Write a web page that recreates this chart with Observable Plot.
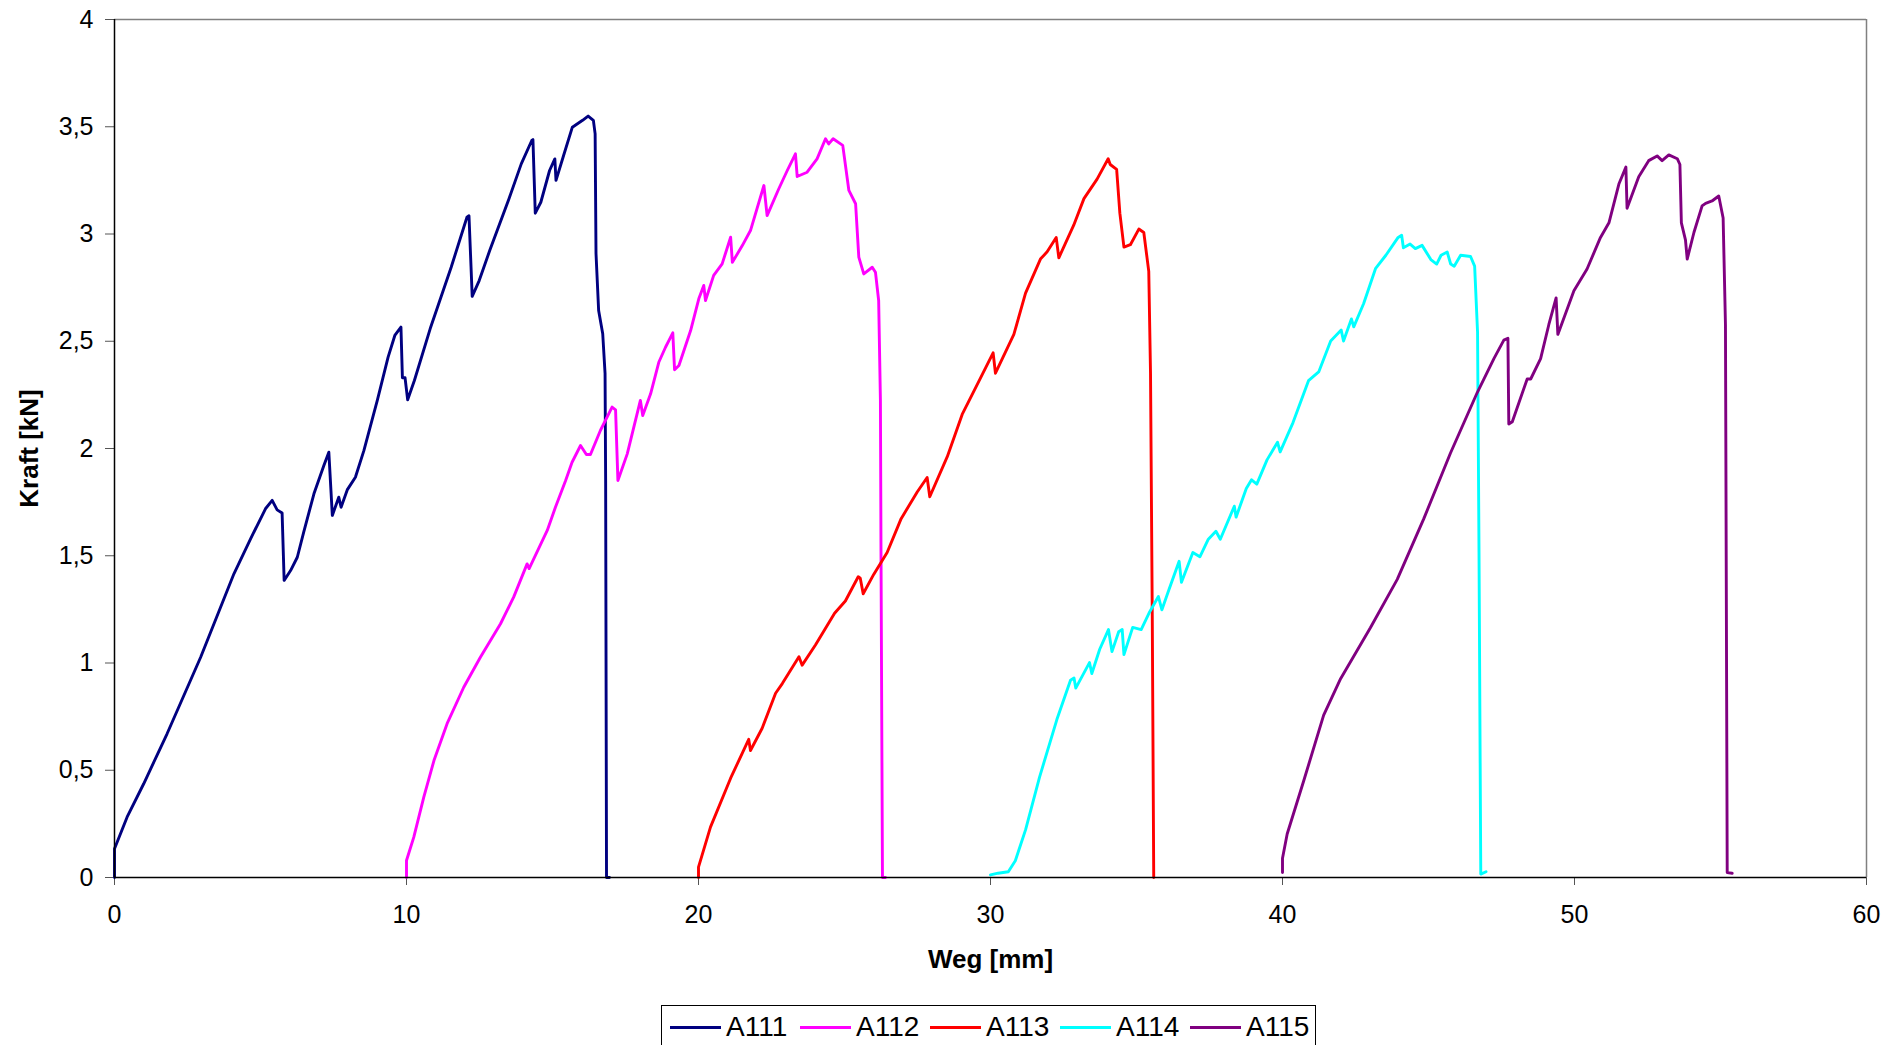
<!DOCTYPE html>
<html>
<head>
<meta charset="utf-8">
<script src="https://cdn.jsdelivr.net/npm/d3@7"></script>
<script src="https://cdn.jsdelivr.net/npm/@observablehq/plot@0.6"></script>
<style>
  html, body { margin: 0; padding: 0; background: #fff; }
  body { font-family: "Liberation Sans", Arial, sans-serif; width: 1902px; height: 1045px; overflow: hidden; position: relative; }
  #chart svg { display: block; }
  .legend { position: absolute; left: 661px; top: 1005px; width: 655px; height: 60px; border: 1px solid #000; box-sizing: border-box; padding-left: 8px; display: flex; align-items: flex-start; }
  .item { display: flex; align-items: center; height: 42px; width: 130px; flex: none; }
  .sw { width: 51px; height: 3px; margin-right: 5px; }
  .lab { font-size: 28px; color: #000; line-height: 1; }
</style>
</head>
<body>
<div id="chart"></div>
<div class="legend" id="legend"></div>
<script>
const seriesNames = ["A111", "A112", "A113", "A114", "A115"];
const seriesColors = ["#000080", "#FF00FF", "#FF0000", "#00FFFF", "#800080"];
const xTicks = [0, 10, 20, 30, 40, 50, 60];
const yTicks = [0, 0.5, 1, 1.5, 2, 2.5, 3, 3.5, 4];

// Weg [mm], Kraft [kN]
const A111 = [[0,0],[0,0.134],[0.43,0.281],[1.0,0.437],[1.8,0.67],[2.95,1.027],[4.09,1.416],[4.66,1.579],[5.17,1.719],[5.4,1.758],[5.57,1.714],[5.74,1.699],[5.81,1.385],[6.03,1.431],[6.26,1.493],[6.48,1.61],[6.83,1.789],[7.17,1.921],[7.34,1.983],[7.46,1.688],[7.68,1.773],[7.76,1.726],[7.97,1.807],[8.25,1.866],[8.54,1.99],[9.0,2.224],[9.37,2.426],[9.6,2.527],[9.81,2.566],[9.86,2.33],[9.95,2.33],[10.04,2.227],[10.27,2.317],[10.81,2.558],[11.53,2.845],[12.07,3.078],[12.14,3.085],[12.25,2.709],[12.49,2.783],[12.85,2.923],[13.51,3.164],[13.93,3.327],[14.29,3.436],[14.33,3.44],[14.41,3.097],[14.6,3.148],[14.9,3.296],[15.08,3.35],[15.12,3.25],[15.38,3.366],[15.68,3.498],[16.03,3.53],[16.22,3.55],[16.4,3.53],[16.46,3.467],[16.49,2.909],[16.58,2.643],[16.72,2.535],[16.8,2.35],[16.82,1.85],[16.85,0],[16.95,0]];
const A112 = [[10.0,0],[10.0,0.079],[10.25,0.188],[10.59,0.374],[10.94,0.545],[11.39,0.717],[11.96,0.887],[12.53,1.027],[13.22,1.183],[13.67,1.307],[14.13,1.462],[14.2,1.44],[14.82,1.618],[15.1,1.726],[15.45,1.851],[15.67,1.936],[15.96,2.014],[16.16,1.972],[16.3,1.972],[16.64,2.084],[17.04,2.193],[17.16,2.18],[17.24,1.851],[17.56,1.975],[18.01,2.224],[18.09,2.154],[18.36,2.255],[18.64,2.402],[18.87,2.472],[19.12,2.539],[19.18,2.367],[19.33,2.387],[19.73,2.55],[20.01,2.698],[20.18,2.76],[20.24,2.69],[20.52,2.807],[20.81,2.861],[21.1,2.985],[21.16,2.868],[21.5,2.946],[21.78,3.016],[22.24,3.226],[22.35,3.086],[22.75,3.211],[23.04,3.296],[23.32,3.374],[23.38,3.268],[23.72,3.288],[24.06,3.35],[24.35,3.444],[24.46,3.42],[24.61,3.444],[24.94,3.413],[25.15,3.203],[25.38,3.141],[25.49,2.892],[25.66,2.814],[25.95,2.845],[26.06,2.822],[26.17,2.69],[26.23,2.224],[26.25,1.52],[26.3,0],[26.4,0]];
const A113 = [[20.0,0],[20.0,0.048],[20.41,0.235],[21.1,0.463],[21.72,0.644],[21.78,0.592],[22.18,0.696],[22.64,0.859],[22.87,0.904],[23.44,1.029],[23.55,0.99],[24.01,1.085],[24.66,1.232],[25.03,1.289],[25.47,1.402],[25.54,1.395],[25.64,1.323],[26.0,1.413],[26.46,1.515],[26.94,1.673],[27.49,1.797],[27.83,1.865],[27.92,1.775],[28.52,1.962],[29.03,2.159],[29.66,2.329],[30.09,2.446],[30.17,2.351],[30.8,2.532],[31.2,2.724],[31.71,2.883],[31.94,2.917],[32.25,2.984],[32.34,2.889],[32.85,3.041],[33.2,3.165],[33.65,3.256],[34.03,3.351],[34.1,3.324],[34.32,3.301],[34.43,3.097],[34.57,2.939],[34.79,2.95],[35.08,3.023],[35.25,3.007],[35.42,2.826],[35.48,2.351],[35.54,1.221],[35.59,0]];
const A114 = [[30.0,0.012],[30.26,0.02],[30.61,0.027],[30.85,0.078],[31.2,0.222],[31.68,0.468],[32.27,0.735],[32.74,0.92],[32.86,0.93],[32.92,0.883],[33.39,1.002],[33.47,0.951],[33.74,1.064],[34.04,1.156],[34.16,1.053],[34.39,1.146],[34.51,1.156],[34.57,1.039],[34.87,1.166],[35.16,1.156],[35.45,1.238],[35.75,1.31],[35.87,1.248],[36.11,1.341],[36.46,1.474],[36.54,1.376],[36.93,1.515],[37.17,1.495],[37.46,1.577],[37.72,1.614],[37.87,1.577],[38.35,1.731],[38.41,1.68],[38.76,1.813],[38.94,1.854],[39.12,1.834],[39.47,1.947],[39.83,2.029],[39.92,1.984],[40.36,2.121],[40.89,2.316],[41.24,2.357],[41.65,2.501],[42.01,2.552],[42.09,2.501],[42.36,2.604],[42.44,2.567],[42.78,2.676],[43.19,2.84],[43.54,2.901],[43.96,2.984],[44.08,2.994],[44.14,2.936],[44.37,2.953],[44.55,2.932],[44.78,2.947],[45.08,2.881],[45.28,2.86],[45.43,2.901],[45.64,2.916],[45.76,2.86],[45.88,2.85],[46.1,2.901],[46.44,2.895],[46.58,2.85],[46.68,2.542],[46.73,1.515],[46.79,0.016],[46.97,0.027]];
const A115 = [[40.0,0.023],[40.0,0.09],[40.16,0.203],[40.73,0.452],[41.41,0.757],[41.99,0.927],[42.33,1.006],[43.01,1.164],[43.93,1.39],[44.84,1.673],[45.75,1.978],[46.67,2.261],[47.24,2.419],[47.58,2.505],[47.72,2.514],[47.75,2.114],[47.87,2.125],[48.38,2.324],[48.5,2.324],[48.84,2.419],[49.12,2.577],[49.37,2.702],[49.43,2.532],[49.98,2.736],[50.43,2.837],[50.89,2.984],[51.18,3.052],[51.52,3.233],[51.76,3.312],[51.8,3.12],[52.2,3.267],[52.54,3.342],[52.83,3.364],[53.0,3.342],[53.23,3.369],[53.52,3.351],[53.61,3.324],[53.66,3.052],[53.8,2.973],[53.86,2.883],[54.09,3.007],[54.37,3.131],[54.49,3.143],[54.71,3.154],[54.94,3.177],[55.09,3.075],[55.17,2.577],[55.23,0.023],[55.4,0.02]];

const seriesData = [A111, A112, A113, A114, A115];
const rows = seriesData.flatMap((arr, i) => arr.map(([x, y]) => ({series: seriesNames[i], x, y})));

const chart = Plot.plot({
  width: 1902,
  height: 990,
  marginLeft: 114,
  marginRight: 36,
  marginTop: 19,
  marginBottom: 113,
  style: {fontFamily: "'Liberation Sans', Arial, sans-serif", fontSize: "25px", color: "#000", background: "#fff", overflow: "visible"},
  x: {domain: [0, 60]},
  y: {domain: [0, 4]},
  color: {domain: seriesNames, range: seriesColors},
  marks: [
    Plot.ruleY([4], {stroke: "#808080", strokeWidth: 1.5}),
    Plot.ruleX([60], {stroke: "#808080", strokeWidth: 1.5}),
    Plot.axisX({ticks: xTicks, tickSize: 8, tickPadding: 20, label: null, tickFormat: d => String(d), stroke: "#555"}),
    Plot.axisY({ticks: yTicks, tickSize: 9, tickPadding: 12, label: null, tickFormat: d => String(d).replace(".", ","), stroke: "#555"}),
    Plot.line(rows, {x: "x", y: "y", z: "series", stroke: "series", strokeWidth: 2.9, strokeLinejoin: "round"}),
    Plot.ruleX([0], {stroke: "#000", strokeWidth: 1.5}),
    Plot.ruleY([0], {stroke: "#000", strokeWidth: 1.5}),
    Plot.text(["Weg [mm]"], {text: d => d, frameAnchor: "bottom", dy: 90, textAnchor: "middle", fontWeight: "bold", fontSize: 26}),
    Plot.text(["Kraft [kN]"], {text: d => d, frameAnchor: "left", dx: -85, textAnchor: "middle", rotate: -90, fontWeight: "bold", fontSize: 26})
  ]
});
document.getElementById("chart").appendChild(chart);

const legend = document.getElementById("legend");
seriesNames.forEach((name, i) => {
  const item = document.createElement("div");
  item.className = "item";
  const sw = document.createElement("div");
  sw.className = "sw";
  sw.style.background = seriesColors[i];
  const lab = document.createElement("span");
  lab.className = "lab";
  lab.textContent = name;
  item.appendChild(sw);
  item.appendChild(lab);
  legend.appendChild(item);
});
</script>
</body>
</html>
